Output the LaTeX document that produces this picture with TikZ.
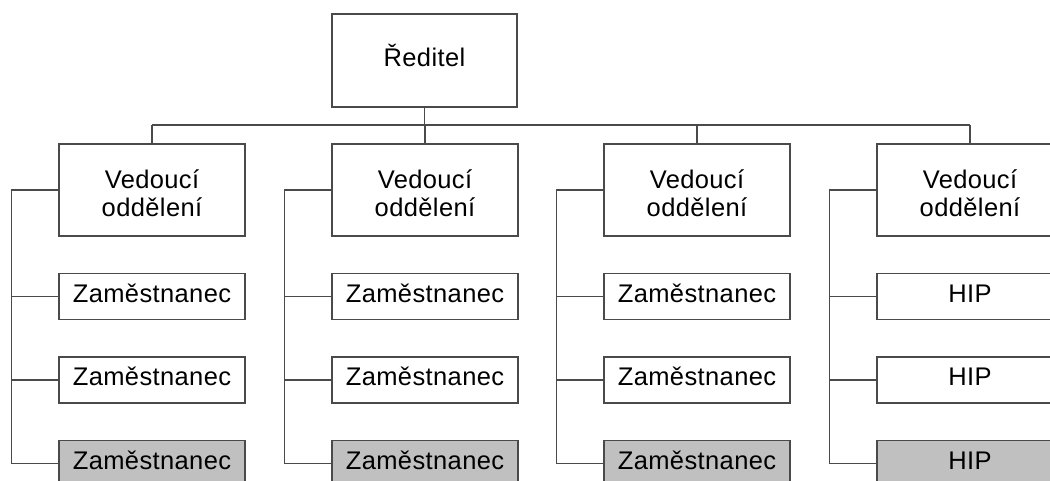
\documentclass[tikz,border=0pt]{standalone}
\usepackage{fontspec}
\setmainfont[LetterSpace=1.5]{Liberation Sans}
\definecolor{linecol}{HTML}{4A4A4A}
\definecolor{boxgray}{HTML}{C0C0C0}
\begin{document}
\begin{tikzpicture}[x=1pt,y=-1pt,
  every node/.style={font=\fontsize{25.5}{28.4}\selectfont},
  conn/.style={draw=linecol,line width=1.3pt},
  boxbase/.style={draw=linecol,line width=1.3pt,inner sep=0pt,
    minimum width=186pt,text height=18pt,text depth=6pt},
  topbox/.style={boxbase,minimum width=185pt,minimum height=93pt},
  mgrbox/.style={boxbase,minimum height=92pt},
  empbox/.style={boxbase,minimum height=46pt,fill=white},
  lastbox/.style={empbox,fill=boxgray},
  linetext/.style={anchor=base,inner sep=0pt}]
\useasboundingbox (0,0) rectangle (1050,481);
\clip (0,0) rectangle (1050,481);

% director
\node[topbox] (dir) at (424.5,60.5) {Ředitel};

% horizontal bus below the director
\coordinate (busL) at (152,125);
\coordinate (busR) at (970,125);
\draw[conn] (busL) -- (busR);
\draw[conn] (dir.south) -- (dir.south |- busL);

% four departments: head plus three staff boxes each
\foreach \i/\x/\lab in {1/152/Zaměstnanec,2/425/Zaměstnanec,3/697/Zaměstnanec,4/970/HIP}{
  \node[mgrbox] (m\i) at (\x,190) {};
  \node[linetext] (m\i a) at ([yshift=1.8pt]m\i.center) {Vedoucí};
  \node[linetext] (m\i b) at ([yshift=-26.6pt]m\i.center) {oddělení};
  \node[empbox] (e\i1) at (\x,296.3) {\lab};
  \node[empbox] (e\i2) at (\x,379.9) {\lab};
  \node[lastbox] (e\i3) at (\x,463.6) {\lab};
  \draw[conn] (m\i.north) -- (m\i.north |- busL);
  \coordinate (s\i) at ([xshift=-47pt]m\i.west);
  \draw[conn] (m\i.west) -- (s\i) |- (e\i3.west);
  \draw[conn] (e\i1.west) -- (e\i1.west -| s\i);
  \draw[conn] (e\i2.west) -- (e\i2.west -| s\i);
}
\end{tikzpicture}
\end{document}
